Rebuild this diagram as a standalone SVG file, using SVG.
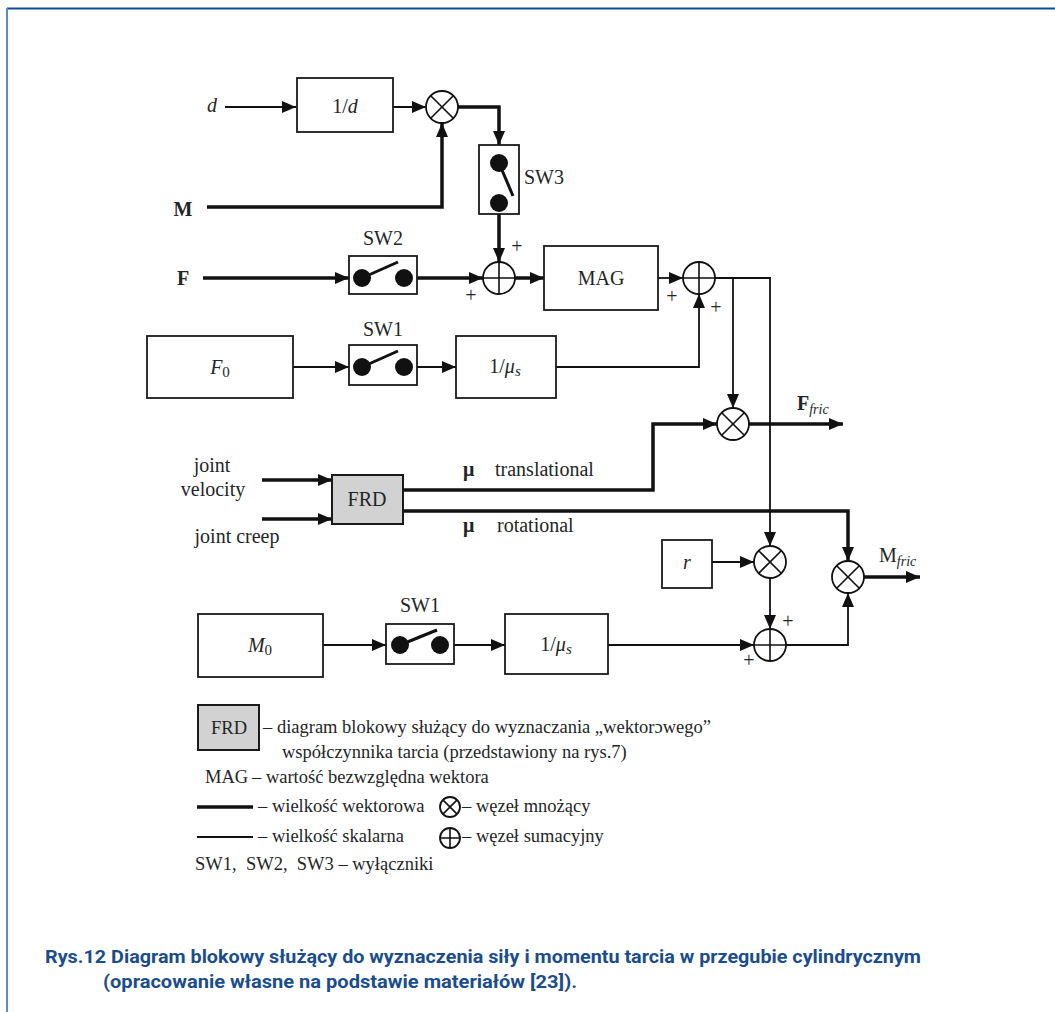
<svg xmlns="http://www.w3.org/2000/svg" width="1055" height="1012" viewBox="0 0 1055 1012">
<style>
.t{font-family:"Liberation Serif","Times New Roman",serif;font-size:20px;fill:#1e2626}
.l{font-family:"Liberation Serif","Times New Roman",serif;font-size:18.5px;fill:#1e2626;white-space:pre}
.b{fill:#fff;stroke:#1a1a1a;stroke-width:1.8}
.g{fill:#d2d2d2;stroke:#1a1a1a;stroke-width:2}
.n{fill:#fff;stroke:#111;stroke-width:1.8}
.nl{stroke:#111;stroke-width:1.6}
.th{fill:none;stroke:#111;stroke-width:3.5}
.tn{fill:none;stroke:#111;stroke-width:1.8}
.ar{marker-end:url(#ah)}
.cap{font-family:Roboto,"Liberation Sans",sans-serif;font-weight:700;font-size:18px;fill:#1b4d8c}
</style>
<defs>
<marker id="ah" viewBox="0 0 14 12" refX="14" refY="6" markerWidth="14" markerHeight="12" markerUnits="userSpaceOnUse" orient="auto"><path d="M0,0 L14,6 L0,12 z" fill="#111"/></marker>
<g id="mul"><circle r="16" class="n"/><path d="M-11.3,-11.3 L11.3,11.3 M-11.3,11.3 L11.3,-11.3" class="nl"/></g>
<g id="sum"><circle r="16" class="n"/><path d="M-16,0 L16,0 M0,-16 L0,16" class="nl"/></g>
</defs>
<rect width="1055" height="1012" fill="#fff"/>
<line x1="7" y1="8.5" x2="1055" y2="8.5" stroke="#0d4f96" stroke-width="2"/>
<line x1="7" y1="8" x2="7" y2="1012" stroke="#5b8ec0" stroke-width="2"/>

<g id="connectors">
<line x1="225" y1="107" x2="296" y2="107" class="tn ar"/>
<line x1="393" y1="107" x2="426" y2="107" class="tn ar"/>
<polyline points="458,107 499,107 499,145" class="th ar"/>
<polyline points="207,207 442,207 442,123" class="th ar"/>
<line x1="499" y1="214" x2="499" y2="262" class="th ar"/>
<line x1="203" y1="278" x2="349" y2="278" class="th ar"/>
<line x1="417" y1="278" x2="483" y2="278" class="th ar"/>
<line x1="515" y1="278" x2="544" y2="278" class="th ar"/>
<line x1="658" y1="278" x2="683" y2="278" class="tn ar"/>
<line x1="293" y1="367" x2="349" y2="367" class="tn ar"/>
<line x1="417" y1="367" x2="456" y2="367" class="tn ar"/>
<polyline points="556,367 699,367 699,294" class="tn ar"/>
<polyline points="715,278 770,278 770,546" class="tn ar"/>
<line x1="733" y1="278" x2="733" y2="408" class="tn ar"/>
<line x1="749" y1="424" x2="843" y2="424" class="th ar"/>
<line x1="262" y1="480" x2="332" y2="480" class="th ar"/>
<line x1="262" y1="519" x2="332" y2="519" class="th ar"/>
<polyline points="403,490 653,490 653,424 717,424" class="th ar"/>
<polyline points="403,511 848,511 848,561" class="th ar"/>
<line x1="712" y1="562" x2="754" y2="562" class="tn ar"/>
<line x1="770" y1="578" x2="770" y2="629" class="tn ar"/>
<line x1="323" y1="645" x2="386" y2="645" class="tn ar"/>
<line x1="454" y1="645" x2="505" y2="645" class="tn ar"/>
<line x1="608" y1="645" x2="754" y2="645" class="tn ar"/>
<polyline points="786,645 848,645 848,593" class="tn ar"/>
<line x1="864" y1="577" x2="920" y2="577" class="th ar"/>
</g>

<g id="in-d"><text x="212" y="112" class="t" font-style="italic" text-anchor="middle">d</text></g>
<g id="box-1d"><rect x="297" y="78" width="96" height="54" class="b"/><text x="345" y="113" class="t" text-anchor="middle">1/<tspan font-style="italic">d</tspan></text></g>
<g id="mul-1"><use href="#mul" x="442" y="107"/></g>
<g id="sw3"><rect x="479" y="145" width="40" height="69" class="b"/><circle cx="499" cy="163" r="9" fill="#111"/><circle cx="499" cy="203" r="9" fill="#111"/><line x1="499" y1="163" x2="513" y2="196" stroke="#111" stroke-width="3"/><text x="524" y="184" class="t">SW3</text></g>
<g id="in-M"><text x="183" y="216" class="t" font-weight="bold" text-anchor="middle">M</text></g>
<g id="in-F"><text x="183" y="285" class="t" font-weight="bold" text-anchor="middle">F</text></g>
<g id="sw2"><rect x="349" y="256" width="68" height="38" class="b"/><circle cx="362" cy="278" r="9" fill="#111"/><circle cx="404" cy="278" r="9" fill="#111"/><line x1="362" y1="278" x2="398" y2="262" stroke="#111" stroke-width="3"/><text x="383" y="245" class="t" text-anchor="middle">SW2</text></g>
<g id="sum-1"><use href="#sum" x="499" y="278"/><text x="517" y="253" class="t" text-anchor="middle">+</text><text x="471" y="302" class="t" text-anchor="middle">+</text></g>
<g id="mag"><rect x="544" y="246" width="114" height="64" class="b"/><text x="601" y="285" class="t" text-anchor="middle">MAG</text></g>
<g id="sum-2"><use href="#sum" x="699" y="278"/><text x="672" y="303" class="t" text-anchor="middle">+</text><text x="716" y="314" class="t" text-anchor="middle">+</text></g>
<g id="box-F0"><rect x="147" y="336" width="146" height="62" class="b"/><text x="220" y="374" class="t" text-anchor="middle"><tspan font-style="italic">F</tspan><tspan font-size="15" dy="3">0</tspan></text></g>
<g id="sw1-top"><rect x="349" y="345" width="68" height="40" class="b"/><circle cx="362" cy="367" r="9" fill="#111"/><circle cx="404" cy="367" r="9" fill="#111"/><line x1="362" y1="367" x2="398" y2="351" stroke="#111" stroke-width="3"/><text x="383" y="336" class="t" text-anchor="middle">SW1</text></g>
<g id="box-mus-top"><rect x="456" y="336" width="100" height="62" class="b"/><text x="505" y="373" class="t" text-anchor="middle">1/<tspan font-style="italic">μ</tspan><tspan font-style="italic" font-size="15" dy="3">s</tspan></text></g>
<g id="mul-2"><use href="#mul" x="733" y="424"/><text x="797" y="410" class="t" font-weight="bold">F<tspan font-style="italic" font-weight="normal" font-size="14" dy="4">fric</tspan></text></g>
<g id="in-jv"><text x="212" y="472" class="t" text-anchor="middle">joint</text><text x="213" y="496" class="t" text-anchor="middle">velocity</text></g>
<g id="in-jc"><text x="237" y="543" class="t" text-anchor="middle">joint creep</text></g>
<g id="frd"><rect x="332" y="475" width="71" height="49" class="g"/><text x="367" y="506" class="t" text-anchor="middle">FRD</text></g>
<g id="lbl-trans"><text x="463" y="476" class="t" font-weight="bold">μ</text><text x="495" y="476" class="t">translational</text></g>
<g id="lbl-rot"><text x="463" y="532" class="t" font-weight="bold">μ</text><text x="497" y="532" class="t">rotational</text></g>
<g id="box-r"><rect x="662" y="540" width="50" height="48" class="b"/><text x="687" y="569" class="t" font-style="italic" text-anchor="middle">r</text></g>
<g id="mul-3"><use href="#mul" x="770" y="562"/></g>
<g id="sum-3"><use href="#sum" x="770" y="645"/><text x="788" y="628" class="t" text-anchor="middle">+</text><text x="749" y="667" class="t" text-anchor="middle">+</text></g>
<g id="mul-4"><use href="#mul" x="848" y="577"/><text x="879" y="562" class="t">M<tspan font-style="italic" font-size="14" dy="4">fric</tspan></text></g>
<g id="box-M0"><rect x="198" y="614" width="125" height="63" class="b"/><text x="260" y="652" class="t" text-anchor="middle"><tspan font-style="italic">M</tspan><tspan font-size="15" dy="3">0</tspan></text></g>
<g id="sw1-bot"><rect x="386" y="624" width="68" height="40" class="b"/><circle cx="400" cy="645" r="9" fill="#111"/><circle cx="440" cy="645" r="9" fill="#111"/><line x1="400" y1="645" x2="437" y2="630" stroke="#111" stroke-width="3"/><text x="420" y="612" class="t" text-anchor="middle">SW1</text></g>
<g id="box-mus-bot"><rect x="505" y="614" width="103" height="60" class="b"/><text x="556" y="651" class="t" text-anchor="middle">1/<tspan font-style="italic">μ</tspan><tspan font-style="italic" font-size="15" dy="3">s</tspan></text></g>

<g id="legend">
<rect x="198" y="705" width="61" height="45" class="g"/><text x="229" y="734" class="l" text-anchor="middle">FRD</text>
<text x="263" y="733" class="l">– diagram blokowy służący do wyznaczania „wektorɔwego”</text>
<text x="282" y="758" class="l">współczynnika tarcia (przedstawiony na rys.7)</text>
<text x="205" y="783" class="l">MAG</text><text x="252" y="783" class="l">– wartość bezwzględna wektora</text>
<line x1="197" y1="807" x2="253" y2="807" stroke="#111" stroke-width="3.5"/>
<text x="258" y="812" class="l">– wielkość wektorowa</text>
<circle cx="450" cy="807" r="10" class="n"/><path d="M442.9,799.9 L457.1,814.1 M442.9,814.1 L457.1,799.9" class="nl"/>
<text x="462" y="812" class="l">– węzeł mnożący</text>
<line x1="197" y1="837" x2="253" y2="837" stroke="#111" stroke-width="1.8"/>
<text x="258" y="842" class="l">– wielkość skalarna</text>
<circle cx="450" cy="838" r="10" class="n"/><path d="M440,838 L460,838 M450,828 L450,848" class="nl"/>
<text x="462" y="842" class="l">– węzeł sumacyjny</text>
<text x="195" y="870" class="l">SW1,  SW2,  SW3 – wyłączniki</text>
</g>

<g id="caption">
<text x="45" y="963" class="cap" textLength="876" lengthAdjust="spacingAndGlyphs">Rys.12 Diagram blokowy służący do wyznaczenia siły i momentu tarcia w przegubie cylindrycznym</text>
<text x="103" y="988" class="cap" textLength="474" lengthAdjust="spacingAndGlyphs">(opracowanie własne na podstawie materiałów [23]).</text>
</g>
</svg>
